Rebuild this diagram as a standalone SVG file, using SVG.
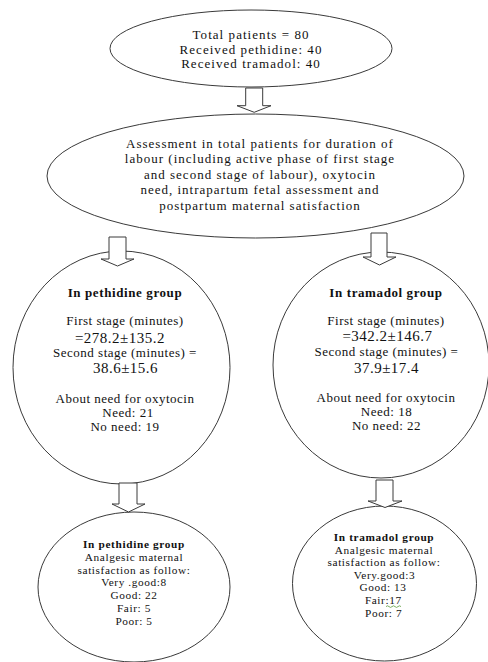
<svg xmlns="http://www.w3.org/2000/svg" width="488" height="662" viewBox="0 0 488 662">
<style>
.shape{fill:#fff;stroke:#3a3a3a;stroke-width:1}
.arrow{fill:#fff;stroke:#3a3a3a;stroke-width:1;stroke-linejoin:miter}
text{font-family:"Liberation Serif","Times New Roman",serif;fill:#111;text-anchor:middle}
.t1{font-size:13px;letter-spacing:1.05px}
.t2{font-size:13px;letter-spacing:1px}
.c{font-size:13px;letter-spacing:0.5px}
.cb{font-size:13px;font-weight:bold;letter-spacing:0.6px}
.num{font-size:15px;letter-spacing:0.5px}
.s{font-size:11.3px;letter-spacing:0.6px}
.sb{font-size:11.3px;font-weight:bold;letter-spacing:0.65px}
</style>
<rect width="488" height="662" fill="#fff"/>
<g id="total">
<ellipse class="shape" cx="251" cy="48.5" rx="141" ry="38.5"/>
<text class="t1" x="251" y="38.5">Total patients = 80</text>
<text class="t1" x="251" y="53.5">Received pethidine: 40</text>
<text class="t1" x="251" y="68">Received tramadol: 40</text>
</g>
<g id="assessment">
<ellipse class="shape" cx="255.5" cy="176" rx="208.5" ry="62"/>
<text class="t2" x="260" y="148">Assessment in total patients for duration of</text>
<text class="t2" x="260" y="163.4">labour (including active phase of first stage</text>
<text class="t2" x="260" y="178.8">and second stage of labour), oxytocin</text>
<text class="t2" x="260" y="194.2">need, intrapartum fetal assessment and</text>
<text class="t2" x="260" y="209.6">postpartum maternal satisfaction</text>
</g>
<g id="pethidine-group">
<ellipse class="shape" cx="121.5" cy="367.5" rx="108.5" ry="116.5"/>
<text class="cb" x="125" y="296.7">In pethidine group</text>
<text class="c" x="125" y="325">First stage (minutes)</text>
<text class="num" x="120" y="342.5">=278.2±135.2</text>
<text class="c" x="125" y="357">Second stage (minutes) =</text>
<text class="num" x="125.5" y="373.3">38.6±15.6</text>
<text class="c" x="125" y="402.7">About need for oxytocin</text>
<text class="c" x="128" y="416.7">Need: 21</text>
<text class="c" x="125" y="431">No need: 19</text>
</g>
<g id="tramadol-group">
<ellipse class="shape" cx="381" cy="365" rx="108" ry="113"/>
<text class="cb" x="386" y="297.3">In tramadol group</text>
<text class="c" x="386" y="325">First stage (minutes)</text>
<text class="num" x="387.5" y="340.5">=342.2±146.7</text>
<text class="c" x="386.5" y="356.3">Second stage (minutes) =</text>
<text class="num" x="386.5" y="372.7">37.9±17.4</text>
<text class="c" x="386" y="401.7">About need for oxytocin</text>
<text class="c" x="386.5" y="416">Need: 18</text>
<text class="c" x="386.5" y="430">No need: 22</text>
</g>
<g id="pethidine-satisfaction">
<ellipse class="shape" cx="134" cy="587" rx="96" ry="75"/>
<text class="sb" x="134" y="548.3">In pethidine group</text>
<text class="s" x="134" y="561">Analgesic maternal</text>
<text class="s" x="134" y="573.7">satisfaction as follow:</text>
<text class="s" x="134" y="586.4">Very .good:8</text>
<text class="s" x="134" y="599.1">Good: 22</text>
<text class="s" x="134" y="611.8">Fair: 5</text>
<text class="s" x="134" y="624.5">Poor: 5</text>
</g>
<g id="tramadol-satisfaction">
<ellipse class="shape" cx="384.5" cy="583.5" rx="92" ry="77.5"/>
<text class="sb" x="384" y="541">In tramadol group</text>
<text class="s" x="384" y="553.6">Analgesic maternal</text>
<text class="s" x="384" y="566.2">satisfaction as follow:</text>
<text class="s" x="384.5" y="578.8">Very.good:3</text>
<text class="s" x="383" y="591.4">Good: 13</text>
<text class="s" x="383.3" y="604">Fair:17</text>
<path d="M386,606.6 q1.5,-1.6 3,0 t3,0 t3,0 t3,0 t3,0" fill="none" stroke="#5d9c3c" stroke-width="0.8"/>
<text class="s" x="383.7" y="616.6">Poor: 7</text>
</g>
<g id="connectors">
<polygon class="arrow" points="245.7,88 262.7,88 262.7,105.7 271,105.7 254.2,112.3 237,105.7 245.7,105.7"/>
<polygon class="arrow" points="109,237 126,237 126,259 134,259 117.5,266 101,259 109,259"/>
<polygon class="arrow" points="371,233 387,233 387,257 396,257 379.5,265 363,257 371,257"/>
<polygon class="arrow" points="119,483 137,483 137,504 145,504 128.5,512 112,504 119,504"/>
<polygon class="arrow" points="376,480 393,480 393,501 402,501 385,507.5 368,501 376,501"/>
</g>
</svg>
